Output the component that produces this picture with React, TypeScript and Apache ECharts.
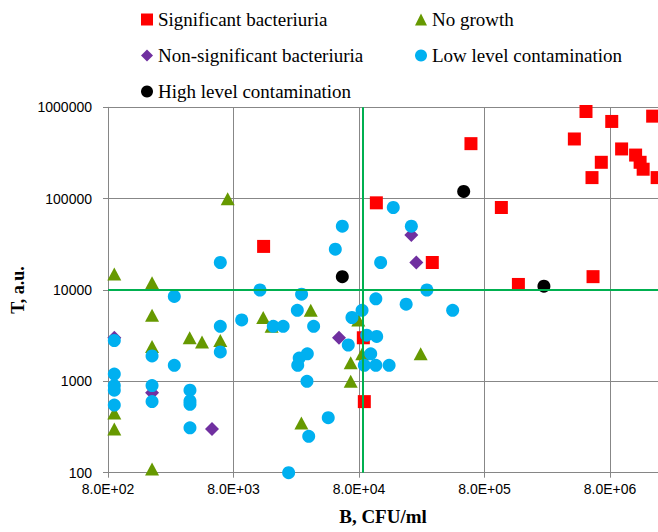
import { useEffect, useRef } from "react";
import * as echarts from "echarts";

// X tick values (B, CFU/ml) and series data
const xTicks = [800, 8000, 80000, 800000, 8000000];

const sigB = [13900, 110000, 624000, 1090000, 307000, 1490000, 5860000, 5150000, 8260000, 17500000, 4160000, 9900000, 12800000, 13900000, 14700000, 6820000, 5750000, 19000000, 86600, 88200];
const sigT = [30000, 90000, 400000, 80000, 20000, 11500, 14000, 900000, 700000, 800000, 450000, 350000, 300000, 250000, 210000, 250000, 170000, 170000, 3000, 600];

const noGrowthB = [7190, 898, 1795, 1795, 1795, 3580, 4490, 6280, 898, 898, 1795, 13800, 16100, 33000, 68700, 68700, 27800, 79000, 84900, 248000];
const noGrowthT = [100000, 15000, 12000, 5300, 2400, 3000, 2700, 2800, 450, 300, 110, 5000, 4000, 6000, 1600, 1000, 350, 4700, 2000, 2000];

const nonSigB = [209000, 229000, 55400, 5390, 898, 1795];
const nonSigT = [40000, 20000, 3000, 300, 3000, 750];

const lowB = [58900, 51800, 6280, 13000, 27900, 2700, 150000, 209000, 119000, 278000, 109000, 190000, 446000, 84600, 70300, 92100, 110700, 65700, 99200, 88200, 109000, 139000, 9300, 25800, 16600, 19900, 34800, 31000, 26700, 26000, 30800, 45500, 31800, 22000, 6280, 898, 1795, 6280, 2700, 898, 898, 898, 898, 1795, 1795, 3600, 3600, 3600, 3600];
const lowT = [50000, 28000, 20000, 10000, 9000, 8500, 80000, 50000, 20000, 10000, 8000, 7000, 6000, 6000, 5000, 3200, 3100, 2500, 2000, 1500, 1500, 1500, 4700, 6000, 4000, 4000, 4000, 2000, 1800, 1500, 1000, 400, 250, 100, 4000, 2800, 1900, 2100, 1500, 1200, 900, 800, 550, 900, 600, 800, 610, 560, 310];

const highB = [58900, 546000, 2380000];
const highT = [14000, 120000, 11000];

const thresholdB = 85000;
const thresholdT = 10000;

const zip = (xs: number[], ys: number[]) => xs.map((x, i) => [x, ys[i]]);

const fmtSci = (v: number) => {
  const e = Math.floor(Math.log10(v) + 1e-9);
  const m = v / Math.pow(10, e);
  return m.toFixed(1) + "E+" + String(e).padStart(2, "0");
};

export default function App() {
  const ref = useRef<HTMLDivElement>(null);
  useEffect(() => {
    if (!ref.current) return;
    const chart = echarts.init(ref.current, undefined, { renderer: "svg" });
    const legendText = { fontFamily: "Liberation Serif", fontSize: 19, color: "#000" };
    const legendBase = { padding: 0, itemWidth: 12, itemHeight: 12, itemGap: 0, textStyle: legendText, selectedMode: false as const };
    const axisGray = "#868686";
    chart.setOption({
      animation: false,
      backgroundColor: "#fff",
      grid: { left: 108, top: 107.3, bottom: 59.3, right: 0, containLabel: false, outerBoundsMode: "none" },
      legend: [
        { ...legendBase, data: ["Significant bacteriuria"], left: 141, top: 10 },
        { ...legendBase, data: ["No growth"], left: 415, top: 10 },
        { ...legendBase, data: ["Non-significant bacteriuria"], left: 141, top: 46 },
        { ...legendBase, data: ["Low level contamination"], left: 415, top: 46 },
        { ...legendBase, data: ["High level contamination"], left: 141, top: 82 },
      ],
      xAxis: {
        type: "log",
        logBase: 10,
        min: 800,
        max: 1.93e7,
        name: "B, CFU/ml",
        nameLocation: "middle",
        nameGap: 34,
        nameTextStyle: { fontFamily: "Liberation Serif", fontWeight: "bold", fontSize: 19, color: "#000" },
        axisLine: { show: true, lineStyle: { color: axisGray, width: 1 } },
        axisTick: { show: true, length: 5, customValues: xTicks, lineStyle: { color: axisGray } },
        axisLabel: { customValues: xTicks, formatter: (v: number) => fmtSci(v), margin: 9, fontFamily: "Liberation Sans", fontSize: 14, color: "#000" },
        splitLine: { show: true, lineStyle: { color: "#878787", width: 1 } },
      },
      yAxis: {
        type: "log",
        logBase: 10,
        min: 100,
        max: 1000000,
        name: "T, a.u.",
        nameLocation: "middle",
        nameGap: 78,
        nameRotate: 90,
        nameTextStyle: { fontFamily: "Liberation Serif", fontWeight: "bold", fontSize: 18, color: "#000" },
        axisLine: { show: true, lineStyle: { color: axisGray, width: 1 } },
        axisTick: { show: true, length: 5, lineStyle: { color: axisGray } },
        axisLabel: { formatter: (v: number) => String(Math.round(v)), margin: 16, fontFamily: "Liberation Sans", fontSize: 14, color: "#000" },
        splitLine: { show: true, lineStyle: { color: "#878787", width: 1 } },
      },
      series: [
        {
          name: "Significant bacteriuria",
          type: "scatter",
          symbol: "rect",
          symbolSize: 13,
          itemStyle: { color: "#FF0000", opacity: 1 },
          data: zip(sigB, sigT),
          markLine: {
            silent: true,
            symbol: ["none", "none"],
            label: { show: false },
            lineStyle: { color: "#00B050", width: 2, type: "solid", opacity: 1 },
            data: [{ xAxis: thresholdB }, { yAxis: thresholdT }],
          },
        },
        {
          name: "No growth",
          type: "scatter",
          symbol: "triangle",
          symbolSize: [14, 13],
          itemStyle: { color: "#669900", opacity: 1 },
          data: zip(noGrowthB, noGrowthT),
        },
        {
          name: "Non-significant bacteriuria",
          type: "scatter",
          symbol: "diamond",
          symbolSize: 14,
          itemStyle: { color: "#7030A0", opacity: 1 },
          data: zip(nonSigB, nonSigT),
        },
        {
          name: "Low level contamination",
          type: "scatter",
          symbol: "circle",
          symbolSize: 13,
          itemStyle: { color: "#00B0F0", opacity: 1 },
          data: zip(lowB, lowT),
        },
        {
          name: "High level contamination",
          type: "scatter",
          symbol: "circle",
          symbolSize: 13,
          itemStyle: { color: "#000000", opacity: 1 },
          data: zip(highB, highT),
        },
      ],
    });
    return () => chart.dispose();
  }, []);
  return <div ref={ref} style={{ position: "absolute", left: 0, top: 0, width: 658, height: 532 }} />;
}
